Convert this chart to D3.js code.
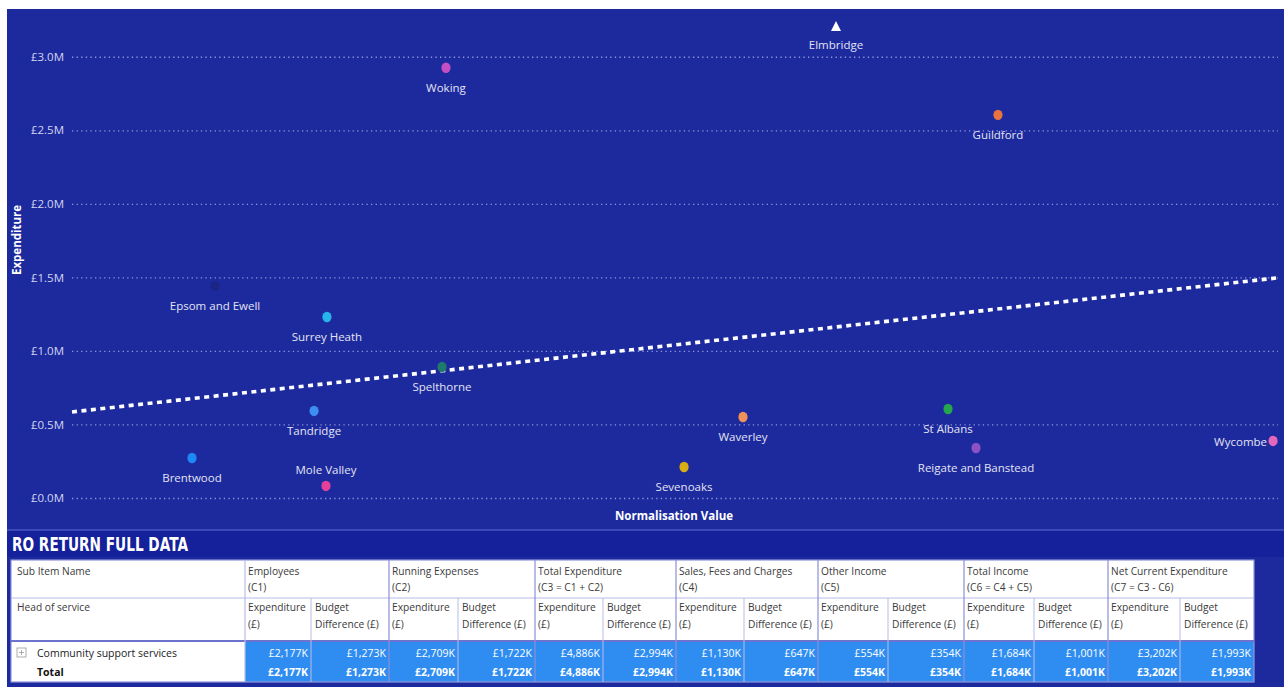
<!DOCTYPE html>
<html><head><meta charset="utf-8">
<script src="https://cdn.jsdelivr.net/npm/d3@7"></script>
<style>
html,body{margin:0;padding:0;background:#fff;}
svg{display:block;}
</style></head>
<body>
<svg id="c" width="1284" height="687"></svg>
<script>
// ---------- DATA ----------
const districts = ["Brentwood","Epsom and Ewell","Tandridge","Mole Valley","Surrey Heath","Spelthorne","Woking","Sevenoaks","Waverley","Elmbridge","St Albans","Reigate and Banstead","Guildford","Wycombe"];
const normValues = [9.95,11.86,20.07,21.06,21.14,30.68,31.01,50.75,55.64,63.35,72.64,74.96,76.78,99.59];
const expenditureM = [0.272,1.442,0.592,0.082,1.231,0.891,2.925,0.211,0.551,3.45,0.605,0.340,2.605,0.388];
const pointColors = ["#1e88f5","#1a2585","#3d8ef0","#e2409a","#26b4ea","#1f7a6a","#c44fc4","#d8ae12","#f0915a","#ffffff","#25a84c","#8a52c4","#e8733e","#e566bd"];
const labelPos = ["below","below","below","above","below","below","below","below","below","below","below","below","below","left"];
const yTicks = [0,0.5,1.0,1.5,2.0,2.5,3.0];
const trendX = [0,100];
const trendY = [0.585,1.497];

const groups = ["Employees","Running Expenses","Total Expenditure","Sales, Fees and Charges","Other Income","Total Income","Net Current Expenditure"];
const groupCodes = ["(C1)","(C2)","(C3 = C1 + C2)","(C4)","(C5)","(C6 = C4 + C5)","(C7 = C3 - C6)"];
const expK = [2177,2709,4886,1130,554,1684,3202];
const budgetK = [1273,1722,2994,647,354,1001,1993];
const rowLabels = ["Community support services","Total"];

// ---------- DRAW ----------
const svg = d3.select("#c");
const FONT = "'Open Sans', 'Noto Sans', sans-serif";

svg.append("rect").attr("x",7).attr("y",9).attr("width",1277).attr("height",678).attr("fill","#1d2a9e");
svg.append("rect").attr("x",7).attr("y",529).attr("width",1277).attr("height",2).attr("fill","#3a49b6");
svg.append("rect").attr("x",7).attr("y",531).attr("width",1277).attr("height",26).attr("fill","#15219a");

const x = d3.scaleLinear().domain([0,100]).range([72,1278]);
const y = d3.scaleLinear().domain([0,3.25]).range([498,20]);

const yAxis = d3.axisLeft(y).tickValues(yTicks).tickSize(-(1278-72)).tickPadding(8)
  .tickFormat(d => "£" + d3.format(".1f")(d) + "M");
const ga = svg.append("g").attr("transform","translate(72,0)").call(yAxis);
ga.select(".domain").remove();
ga.selectAll(".tick line").attr("stroke","#aab1e6").attr("stroke-opacity",0.8)
  .attr("stroke-width",1.3).attr("stroke-dasharray","1.3,3.3");
ga.selectAll(".tick text").attr("fill","#d2d5ee").attr("font-family",FONT).attr("font-size",11.5).attr("x",-8);

svg.append("text").attr("x",674).attr("y",520).attr("text-anchor","middle")
  .attr("font-family",FONT).attr("font-weight","bold").attr("font-size",11.5).attr("fill","#ffffff")
  .text("Normalisation Value");
svg.append("text").attr("transform","translate(21,240) rotate(-90)").attr("text-anchor","middle")
  .attr("font-family",FONT).attr("font-weight","bold").attr("font-size",11.5).attr("fill","#ffffff")
  .text("Expenditure");

const line = d3.line().x(d=>x(d[0])).y(d=>y(d[1]));
svg.append("path").datum(d3.zip(trendX,trendY)).attr("d",line)
  .attr("stroke","#ffffff").attr("stroke-width",3.6).attr("stroke-dasharray","5,4.5").attr("fill","none");

const pts = districts.map((n,i)=>({n, x:normValues[i], v:expenditureM[i], c:pointColors[i], lp:labelPos[i]}));
const yMax = y.domain()[1];
const gp = svg.append("g");
pts.forEach(p=>{
  const px = x(p.x);
  if (p.v > yMax) {
    const py = y(yMax) + 6;
    gp.append("path").attr("d", `M${px},${py-5} L${px+5},${py+5} L${px-5},${py+5} Z`).attr("fill",p.c);
    gp.append("text").attr("x",px).attr("y",py+23).attr("text-anchor","middle")
      .attr("font-family",FONT).attr("font-size",11.5).attr("fill","#e2e4f2").text(p.n);
    return;
  }
  const py = y(p.v);
  gp.append("ellipse").attr("cx",px).attr("cy",py).attr("rx",4.6).attr("ry",5.2).attr("fill",p.c);
  const t = gp.append("text").attr("font-family",FONT).attr("font-size",11.5).attr("fill","#e2e4f2").text(p.n);
  if (p.lp==="below") t.attr("x",px).attr("y",py+24).attr("text-anchor","middle");
  else if (p.lp==="above") t.attr("x",px).attr("y",py-12).attr("text-anchor","middle");
  else t.attr("x",px-6).attr("y",py+5).attr("text-anchor","end");
});

// ---------- TABLE ----------
svg.append("text").attr("x",12).attr("y",551).attr("font-family","'DejaVu Sans', sans-serif")
  .attr("font-weight","bold").attr("font-size",19).attr("fill","#ffffff")
  .attr("textLength",176).attr("lengthAdjust","spacingAndGlyphs").text("RO RETURN FULL DATA");

const tx0 = 11, tx1 = 1254;
const groupX = [245,389,535,676,818,964,1108,1254];
const subSplit = [311,458,603,744,888,1034,1180];
const hy0 = 560, hy1 = 598, hy2 = 641, ry2 = 682;
const TF = "'Open Sans','Noto Sans',sans-serif";

svg.append("rect").attr("x",tx0).attr("y",hy0).attr("width",tx1-tx0).attr("height",ry2-hy0).attr("fill","#ffffff");
svg.append("rect").attr("x",groupX[0]).attr("y",hy2).attr("width",tx1-groupX[0]).attr("height",ry2-hy2).attr("fill","#2f8df2");

const tg = svg.append("g");
const hl = (x1,y1,x2,y2,c,w)=>tg.append("line").attr("x1",x1).attr("y1",y1).attr("x2",x2).attr("y2",y2).attr("stroke",c).attr("stroke-width",w||1);
tg.append("rect").attr("x",tx0).attr("y",hy0).attr("width",tx1-tx0).attr("height",ry2-hy0).attr("fill","none").attr("stroke","#8f94d8").attr("stroke-width",1.2);
hl(tx0,hy1,tx1,hy1,"#b9bce8",1.2);
hl(tx0,hy2,tx1,hy2,"#6d72cf",2);
groupX.slice(0,7).forEach((gx,i)=>{ hl(gx,hy0,gx,ry2, i===0?"#b9bce8":"#8a8fd6",1.2); });
subSplit.forEach(sx=>hl(sx,hy1,sx,ry2,"#b9bce8",1));

const ttext = (xx,yy,s,opts={})=>tg.append("text").attr("x",xx).attr("y",yy).attr("font-family",TF)
  .attr("font-size",opts.fs||10.2).attr("fill",opts.fill||"#3a3a3a").attr("font-weight",opts.fw||"normal")
  .attr("text-anchor",opts.anchor||"start").text(s);

ttext(17,575,"Sub Item Name");
ttext(17,611,"Head of service");
groups.forEach((g,i)=>{
  ttext(groupX[i]+3,575,g);
  ttext(groupX[i]+3,591,groupCodes[i]);
  ttext(groupX[i]+3,611,"Expenditure");
  ttext(groupX[i]+3,628,"(£)");
  ttext(subSplit[i]+4,611,"Budget");
  ttext(subSplit[i]+4,628,"Difference (£)");
});

tg.append("rect").attr("x",17).attr("y",648).attr("width",9).attr("height",9).attr("fill","none").attr("stroke","#9a9a9a").attr("stroke-width",0.8);
hl(19,652.5,24,652.5,"#9a9a9a",0.8); hl(21.5,650,21.5,655,"#9a9a9a",0.8);
ttext(37,657,rowLabels[0],{fs:10.5,fill:"#222"});
ttext(37,676,rowLabels[1],{fs:10.5,fill:"#111",fw:"bold"});

const fmtK = v => "£" + d3.format(",")(v) + "K";
groups.forEach((g,i)=>{
  [0,1].forEach(r=>{
    const yy = r===0?657:676;
    const fw = r===0?"normal":"bold";
    ttext(subSplit[i]-3,yy,fmtK(expK[i]),{fs:10.5,fill:"#ffffff",fw,anchor:"end"});
    ttext(groupX[i+1]-3,yy,fmtK(budgetK[i]),{fs:10.5,fill:"#ffffff",fw,anchor:"end"});
  });
});
</script>
</body></html>
